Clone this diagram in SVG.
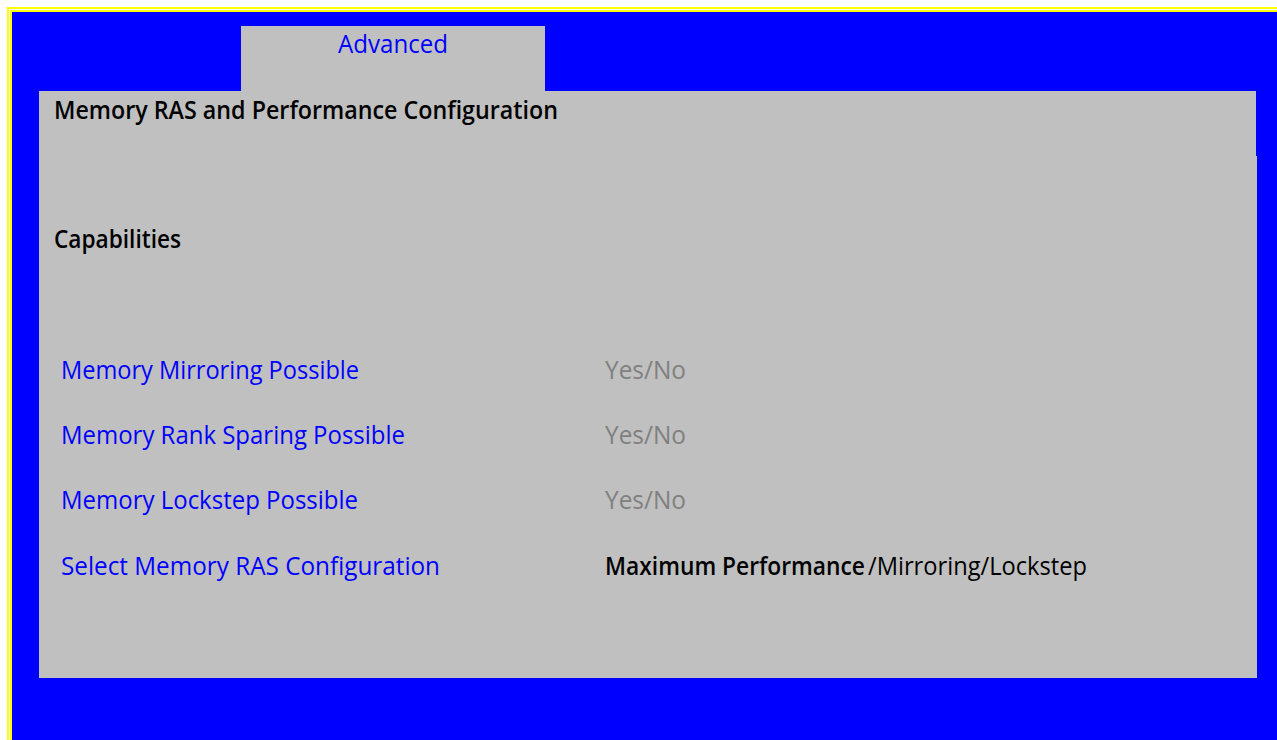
<svg xmlns="http://www.w3.org/2000/svg" width="1277" height="740" viewBox="0 0 1277 740">
  <style>
    text { font-family: "Open Sans", "Liberation Sans", sans-serif; font-size: 25px; }
    .head { fill: #000000; font-weight: 600; }
    .item { fill: #0000ff; }
    .ro { fill: #808080; }
    .val { fill: #000000; }
    .sel { font-weight: 600; }
    .panel { fill: #c0c0c0; }
  </style>
  <!-- page background and frame -->
  <rect x="0" y="0" width="1277" height="740" fill="#ffffff"/>
  <rect x="7" y="7" width="1280" height="740" fill="#ffff00"/>
  <rect x="9" y="9" width="1280" height="740" fill="#ffffff"/>
  <rect x="10" y="10" width="1280" height="740" fill="#ffff00"/>
  <rect x="12" y="12" width="1265" height="728" fill="#0000ff"/>

  <!-- tab -->
  <g id="tab-advanced">
    <rect class="panel" x="241" y="26" width="304" height="66"/>
    <text class="item" x="338" y="53" textLength="110" lengthAdjust="spacingAndGlyphs">Advanced</text>
  </g>

  <!-- main panel -->
  <g id="panel">
    <rect class="panel" x="39" y="91" width="1217" height="587"/>
    <rect class="panel" x="39" y="156" width="1218" height="522"/>
  </g>

  <g id="title">
    <text class="head" x="54" y="119" textLength="504" lengthAdjust="spacingAndGlyphs">Memory RAS and Performance Configuration</text>
  </g>

  <g id="capabilities">
    <text class="head" x="54" y="248" textLength="127" lengthAdjust="spacingAndGlyphs">Capabilities</text>
  </g>

  <g id="row-mirroring">
    <text class="item" x="61" y="379" textLength="298" lengthAdjust="spacingAndGlyphs">Memory Mirroring Possible</text>
    <text class="ro" x="605" y="379" textLength="81" lengthAdjust="spacingAndGlyphs">Yes/No</text>
  </g>

  <g id="row-sparing">
    <text class="item" x="61" y="444" textLength="344" lengthAdjust="spacingAndGlyphs">Memory Rank Sparing Possible</text>
    <text class="ro" x="605" y="444" textLength="81" lengthAdjust="spacingAndGlyphs">Yes/No</text>
  </g>

  <g id="row-lockstep">
    <text class="item" x="61" y="509" textLength="297" lengthAdjust="spacingAndGlyphs">Memory Lockstep Possible</text>
    <text class="ro" x="605" y="509" textLength="81" lengthAdjust="spacingAndGlyphs">Yes/No</text>
  </g>

  <g id="row-ras-config">
    <text class="item" x="61" y="575" textLength="379" lengthAdjust="spacingAndGlyphs">Select Memory RAS Configuration</text>
    <text class="val sel" x="605" y="575" textLength="260" lengthAdjust="spacingAndGlyphs">Maximum Performance</text>
    <text class="val" x="868" y="575" textLength="219" lengthAdjust="spacingAndGlyphs">/Mirroring/Lockstep</text>
  </g>

  <g id="connectors"/>
</svg>
